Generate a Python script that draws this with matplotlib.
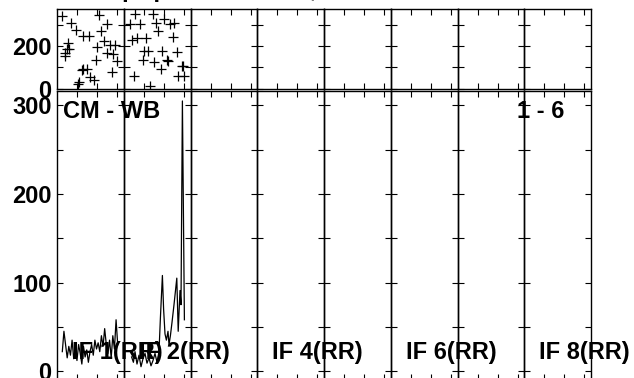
import numpy as np
import matplotlib
matplotlib.use('Agg')
import matplotlib.pyplot as plt
from matplotlib.ticker import FixedLocator, NullFormatter

plt.rcParams['font.family'] = ['Liberation Sans', 'DejaVu Sans']
plt.rcParams['font.weight'] = 'bold'

# labels of the 8 IF panels (only every other one is written under the plot)
if_names = ['IF 1(RR)', 'IF 2(RR)', '', 'IF 4(RR)', '', 'IF 6(RR)', '', 'IF 8(RR)']

# phase (deg) vs time, IF 1 and IF 2, the other IFs are empty
ph_t1 = [0.22, 2.10, 0.67, 2.50, 0.94, 2.17, 1.30, 1.60, 0.55, 2.34, 0.47, 0.60, 1.97, 2.64, 2.89,
         0.39, 2.47, 2.77, 0.40, 1.92, 3.00, 1.30, 1.50, 1.22, 2.74, 1.64, 1.84, 1.10, 1.04]
ph_if1 = [339, 344, 308, 302, 277, 270, 245, 245, 214, 224, 188, 186, 194, 206, 203,
          167, 167, 164, 151, 136, 130, 94, 94, 89, 78, 53, 42, 30, 23]
ph_t2 = [0.57, 1.43, 2.00, 0.30, 0.80, 1.60, 2.30, 2.50, 1.72, 0.38, 0.67, 1.10, 2.43, 1.00,
         1.22, 1.90, 2.63, 0.93, 1.50, 2.13, 2.20, 1.85, 2.88, 2.97, 0.50, 2.72, 3.02, 1.30]
ph_if2 = [348, 348, 327, 305, 305, 308, 305, 308, 270, 226, 238, 238, 242, 175,
          175, 178, 172, 133, 125, 136, 128, 92, 105, 108, 61, 61, 58, 14]

# amplitude vs time
amp_if1 = [22, 45, 30, 15, 28, 18, 35, 14, 25, 12, 30, 20, 8, 28, 16, 24, 10, 22,
           30, 18, 35, 25, 32, 22, 40, 28, 48, 30, 20, 35, 15, 40, 25, 58, 30]
amp_t1 = np.linspace(0.25, 3.02, len(amp_if1))
amp_t2 = [0.38, 0.47, 0.55, 0.65, 0.75, 0.85, 0.95, 1.05, 1.15, 1.25, 1.35, 1.45, 1.55, 1.65, 1.75,
          1.82, 1.92, 1.98, 2.05, 2.12, 2.20, 2.25, 2.32, 2.40, 2.50, 2.64, 2.71, 2.80, 2.85, 2.92, 3.02]
amp_if2 = [16, 10, 22, 8, 18, 5, 14, 20, 9, 15, 6, 12, 20, 10, 22,
           60, 108, 70, 42, 35, 45, 30, 40, 55, 75, 105, 45, 91, 75, 305, 58]

phase_data = {0: (ph_t1, ph_if1), 1: (ph_t2, ph_if2)}
amp_data = {0: (amp_t1, amp_if1), 1: (amp_t2, amp_if2)}

W, H = 634.0, 378.0
fig = plt.figure(figsize=(W / 100, H / 100), dpi=100)

x0 = 57.3   # left edge in px
pw = 66.7   # width of one IF panel in px

for i in range(8):
    left = (x0 + i * pw) / W
    axp = fig.add_axes([left, 1 - 89 / H, pw / W, 79.7 / H])
    axa = fig.add_axes([left, 1 - 380 / H, pw / W, 289.3 / H])

    if i in phase_data:
        t, p = phase_data[i]
        axp.plot(t, p, '+', color='black', markersize=7, mew=0.9)
    if i in amp_data:
        t, a = amp_data[i]
        axa.plot(t, a, color='black', lw=0.9)

    axp.set_ylim(-2, 372)
    axa.set_ylim(-10, 316.6)

    for ax in (axp, axa):
        ax.set_xlim(0, 3.335)
        ax.set_facecolor('none')
        for s in ax.spines.values():
            s.set_linewidth(1.0)
        ax.xaxis.set_major_locator(FixedLocator([1, 2, 3]))
        ax.xaxis.set_major_formatter(NullFormatter())
        ax.tick_params(axis='x', which='both', direction='in', top=True, bottom=True,
                       length=4.5, width=0.8)
        ax.tick_params(axis='y', which='both', direction='in', left=True, right=True,
                       length=4.5, width=0.8, labelsize=17, pad=4)

    axp.yaxis.set_major_locator(FixedLocator([0, 200]))
    axp.yaxis.set_minor_locator(FixedLocator([100, 300]))
    axa.yaxis.set_major_locator(FixedLocator([0, 100, 200, 300]))
    axa.yaxis.set_minor_locator(FixedLocator([50, 150, 250]))

    if i > 0:
        axp.set_yticklabels([])
        axa.set_yticklabels([])

    if if_names[i]:
        fig.text((x0 + i * pw + 15) / W, 1 - 352 / H, if_names[i], fontsize=17,
                 fontweight='bold', va='center', ha='left')

fig.text(63 / W, 1 - 111 / H, 'CM - WB', fontsize=17, fontweight='bold', va='center')
fig.text(517 / W, 1 - 111 / H, '1 - 6', fontsize=17, fontweight='bold', va='center')

# title is mostly cut off at the top of the picture
fig.text(84 / W, 1 + 3 / H, 'Amp&phase vs time, all IFs - Scaled to max', fontsize=17,
         fontweight='bold', va='baseline')

fig.savefig('out.png', dpi=100)
